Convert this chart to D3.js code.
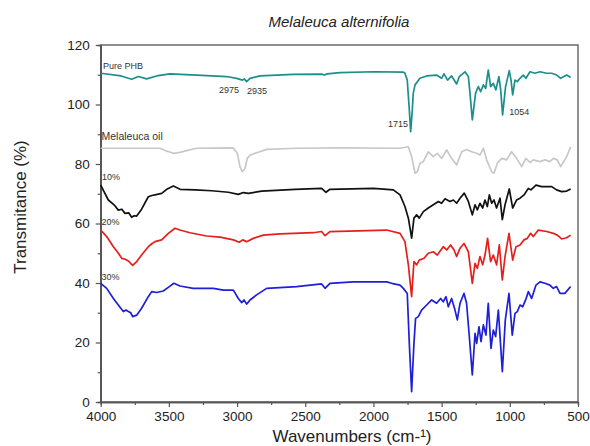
<!DOCTYPE html>
<html>
<head>
<meta charset="utf-8">
<script src="https://cdn.jsdelivr.net/npm/d3@7"></script>
<style>
  body { margin: 0; background: #fff; }
  text { font-family: "Liberation Sans", Arial, sans-serif; }
</style>
</head>
<body>
<svg id="chart" width="590" height="446"></svg>
<script>
// FTIR spectra, [wavenumber, transmittance] pairs
const pureBhb = [[4000,110.5],[3850,109.6],[3773,108.5],[3724,109.4],[3663,108.6],[3590,109.6],[3492,110.3],[3296,109.9],[3076,109.4],[3003,108.8],[2961,108.2],[2947,108.6],[2930,107.7],[2905,108.8],[2832,109.6],[2587,110.1],[2380,110.2],[2360,109.9],[2340,110.3],[2245,110.7],[2000,111.0],[1781,110.9],[1769,110.5],[1752,108.2],[1737,98.2],[1727,90.9],[1715,98.2],[1708,103.8],[1695,106.6],[1659,108.8],[1610,109.6],[1537,109.9],[1500,108.8],[1483,110.3],[1456,108.2],[1427,109.6],[1390,106.9],[1370,109.4],[1329,111.0],[1304,109.4],[1292,103.8],[1275,94.8],[1251,103.8],[1231,106.0],[1214,104.3],[1194,106.6],[1177,105.4],[1158,111.6],[1141,106.0],[1121,107.1],[1102,104.9],[1080,109.4],[1067,104.9],[1053,96.5],[1031,106.0],[1004,111.4],[991,108.2],[979,103.2],[962,108.2],[945,107.7],[925,108.8],[901,109.9],[882,108.8],[852,111.0],[816,110.5],[779,111.0],[730,110.5],[693,110.5],[657,109.9],[627,108.8],[583,109.9],[554,109.1]];

const oil = [[4000,85.3],[3565,85.3],[3520,84.4],[3467,83.6],[3420,83.9],[3370,84.5],[3296,85.3],[3028,85.4],[2998,83.6],[2979,79.1],[2962,77.4],[2942,78.5],[2925,81.9],[2905,83.0],[2856,83.8],[2783,84.9],[2563,85.3],[2245,85.4],[1805,85.3],[1744,85.8],[1720,82.5],[1695,76.9],[1678,77.4],[1659,80.2],[1634,80.8],[1598,84.1],[1561,82.5],[1532,83.6],[1500,81.9],[1463,84.7],[1427,81.9],[1390,79.7],[1353,84.1],[1317,84.9],[1280,84.1],[1243,83.6],[1219,83.0],[1194,85.3],[1170,81.4],[1133,77.4],[1116,76.9],[1092,80.2],[1060,81.9],[1023,81.4],[987,84.1],[950,81.9],[913,79.1],[882,81.9],[852,80.5],[828,81.4],[779,80.8],[742,81.4],[706,80.8],[681,81.9],[652,81.4],[627,79.1],[583,82.5],[554,85.8]];

const blend10 = [[4000,72.9],[3944,67.9],[3900,66.2],[3871,64.5],[3845,64.8],[3822,63.4],[3795,63.6],[3773,62.1],[3755,62.6],[3736,62.5],[3700,64.8],[3651,69.0],[3625,69.4],[3602,69.6],[3553,70.1],[3516,71.5],[3467,72.6],[3418,71.5],[3309,71.3],[3186,71.0],[3064,70.5],[2991,69.8],[2954,70.4],[2917,70.1],[2820,70.9],[2575,71.5],[2380,71.8],[2348,70.5],[2319,71.5],[2000,71.8],[1854,71.3],[1805,69.6],[1769,65.7],[1744,61.8],[1732,58.5],[1720,55.1],[1703,61.8],[1683,62.9],[1664,61.8],[1634,64.0],[1598,65.2],[1561,66.3],[1524,67.4],[1500,66.8],[1475,68.3],[1439,67.4],[1414,67.9],[1390,66.8],[1365,68.5],[1334,70.2],[1304,67.4],[1275,62.9],[1255,66.3],[1238,64.6],[1219,66.8],[1199,65.2],[1182,67.9],[1165,65.7],[1150,69.6],[1133,66.8],[1116,67.9],[1097,65.2],[1072,68.5],[1055,61.3],[1035,66.3],[1004,71.6],[979,65.2],[950,67.9],[925,68.5],[896,69.6],[864,71.8],[845,71.3],[808,72.9],[767,72.4],[693,72.4],[657,71.3],[620,70.7],[583,70.9],[554,71.6]];

const blend20 = [[4000,57.8],[3956,55.6],[3907,52.2],[3870,50.0],[3846,48.3],[3820,48.0],[3797,47.4],[3766,45.9],[3736,47.2],[3700,49.4],[3651,52.2],[3625,53.2],[3602,53.9],[3553,54.5],[3504,56.7],[3455,58.4],[3419,57.8],[3345,56.9],[3223,55.8],[3125,55.4],[3027,54.5],[2984,53.7],[2959,54.5],[2930,53.9],[2881,55.0],[2808,56.1],[2685,56.5],[2441,56.9],[2380,57.3],[2355,55.9],[2319,57.3],[1903,57.8],[1805,56.7],[1769,53.9],[1744,46.1],[1720,35.4],[1703,47.2],[1683,46.1],[1664,47.7],[1629,48.3],[1598,50.0],[1561,50.5],[1532,49.4],[1488,52.2],[1463,51.1],[1434,52.8],[1409,51.1],[1390,48.9],[1365,51.7],[1336,53.3],[1304,50.5],[1275,39.9],[1255,46.6],[1238,44.9],[1219,48.9],[1199,46.1],[1182,49.4],[1163,55.0],[1141,47.2],[1121,49.4],[1097,46.1],[1077,52.8],[1055,41.0],[1035,48.9],[1006,56.7],[979,47.7],[955,52.2],[925,52.8],[896,54.5],[872,55.0],[847,56.7],[828,55.6],[791,57.8],[730,57.3],[681,56.7],[652,56.1],[620,54.8],[583,55.2],[554,56.1]];

const blend30 = [[4000,39.9],[3956,38.2],[3907,34.8],[3871,32.6],[3834,30.4],[3815,30.9],[3797,30.4],[3780,30.0],[3766,28.7],[3736,29.2],[3700,31.5],[3651,35.4],[3626,37.1],[3590,36.8],[3541,37.3],[3497,38.8],[3463,39.9],[3419,39.0],[3321,38.2],[3174,38.2],[3101,37.6],[3027,37.6],[2991,34.8],[2966,33.4],[2949,34.3],[2930,32.9],[2905,34.3],[2857,36.0],[2783,38.2],[2563,38.8],[2380,39.7],[2355,38.2],[2319,39.9],[2148,40.4],[1903,40.4],[1866,39.9],[1805,39.3],[1781,38.2],[1752,36.5],[1737,19.7],[1720,3.5],[1703,19.7],[1691,28.1],[1671,28.7],[1647,30.9],[1610,32.6],[1573,34.3],[1537,33.2],[1507,34.8],[1488,33.7],[1468,35.4],[1451,32.0],[1427,34.8],[1402,30.9],[1385,27.6],[1365,33.2],[1336,36.5],[1317,33.2],[1297,22.0],[1275,9.1],[1255,23.1],[1243,19.7],[1226,25.3],[1211,20.3],[1194,25.9],[1175,22.5],[1158,33.2],[1138,18.0],[1121,24.2],[1104,22.0],[1084,30.9],[1055,10.2],[1033,27.6],[1006,36.5],[982,22.5],[962,29.8],[945,30.4],[925,32.6],[906,32.0],[884,34.3],[864,37.1],[840,34.8],[808,39.3],[779,40.4],[742,39.9],[706,39.3],[681,38.2],[657,38.8],[632,36.5],[596,36.5],[554,38.8]];

const seriesNames = ['Pure PHB', 'Melaleuca oil', '10%', '20%', '30%'];
const seriesColors = ['#1b8f8c', '#c8c8c8', '#111111', '#e3201c', '#1f1fd6'];
const xTicks = [4000, 3500, 3000, 2500, 2000, 1500, 1000, 500];
const yTicks = [0, 20, 40, 60, 80, 100, 120];

// peak annotations on the PHB curve (placed at their label spot)
const peakLabels = [
  { text: '2975', wn: 3133, t: 103.9 },
  { text: '2935', wn: 2927, t: 103.6 },
  { text: '1715', wn: 1893, t: 92.4 },
  { text: '1054', wn: 1005, t: 96.5 }
];

const width = 590, height = 446;
const margin = { top: 45, right: 12, bottom: 44, left: 100.7 };

const svg = d3.select('#chart');

const x = d3.scaleLinear().domain([4000, 500]).range([margin.left, width - margin.right]);
const y = d3.scaleLinear().domain([0, 120]).range([height - margin.bottom, margin.top]);

// frame
svg.append('rect')
  .attr('x', x(4000)).attr('y', y(120))
  .attr('width', x(500) - x(4000)).attr('height', y(0) - y(120))
  .attr('fill', 'none').attr('stroke', '#555').attr('stroke-width', 1.3);

// major + minor ticks
svg.append('g')
  .attr('transform', `translate(0,${y(0)})`)
  .call(d3.axisBottom(x).tickValues(xTicks).tickFormat(d3.format('d'))
    .tickSize(5).tickSizeOuter(0).tickPadding(4));
svg.append('g')
  .attr('transform', `translate(0,${y(0)})`)
  .call(d3.axisBottom(x).tickValues(d3.range(3750, 500, -500)).tickSize(3).tickFormat(''));

svg.append('g')
  .attr('transform', `translate(${x(4000)},0)`)
  .call(d3.axisLeft(y).tickValues(yTicks).tickFormat(d3.format('d'))
    .tickSize(5).tickSizeOuter(0).tickPadding(6));
svg.append('g')
  .attr('transform', `translate(${x(4000)},0)`)
  .call(d3.axisLeft(y).tickValues(d3.range(10, 120, 20)).tickSize(3).tickFormat(''));

svg.selectAll('.domain').attr('stroke', '#555').attr('stroke-width', 1.3);
svg.selectAll('.tick line').attr('stroke', '#555').attr('stroke-width', 1.2);
svg.selectAll('.tick text').attr('font-size', 13.5).attr('fill', '#222')
  .attr('font-family', '"Liberation Sans", Arial, sans-serif');

// spectra
const line = d3.line().x(d => x(d[0])).y(d => y(d[1]));
const allSeries = [pureBhb, oil, blend10, blend20, blend30];
allSeries.forEach((s, i) => {
  svg.append('path')
    .datum(s)
    .attr('d', line)
    .attr('fill', 'none')
    .attr('stroke', seriesColors[i])
    .attr('stroke-width', 1.7)
    .attr('stroke-linejoin', 'round');
});

// series labels
const labelPos = [[103, 69, 9], [101.5, 140, 10.5], [102, 180, 9], [101.5, 225, 9], [101.5, 280, 9]];
seriesNames.forEach((n, i) => {
  svg.append('text')
    .attr('x', labelPos[i][0]).attr('y', labelPos[i][1])
    .attr('font-size', labelPos[i][2])
    .attr('fill', '#333')
    .text(n);
});

svg.selectAll('.peak')
  .data(peakLabels)
  .enter().append('text')
  .attr('class', 'peak')
  .attr('x', d => x(d.wn)).attr('y', d => y(d.t))
  .attr('font-size', 9).attr('fill', '#333')
  .text(d => d.text);

// titles
svg.append('text')
  .attr('x', 339).attr('y', 27)
  .attr('text-anchor', 'middle')
  .attr('font-size', 15).attr('font-style', 'italic').attr('fill', '#222')
  .text('Melaleuca alternifolia');

svg.append('text')
  .attr('x', 352).attr('y', 442)
  .attr('text-anchor', 'middle')
  .attr('font-size', 17).attr('fill', '#222')
  .text('Wavenumbers (cm-¹)');

svg.append('text')
  .attr('transform', 'translate(26,207) rotate(-90)')
  .attr('text-anchor', 'middle')
  .attr('font-size', 17).attr('fill', '#222')
  .text('Transmitance (%)');
</script>
</body>
</html>
